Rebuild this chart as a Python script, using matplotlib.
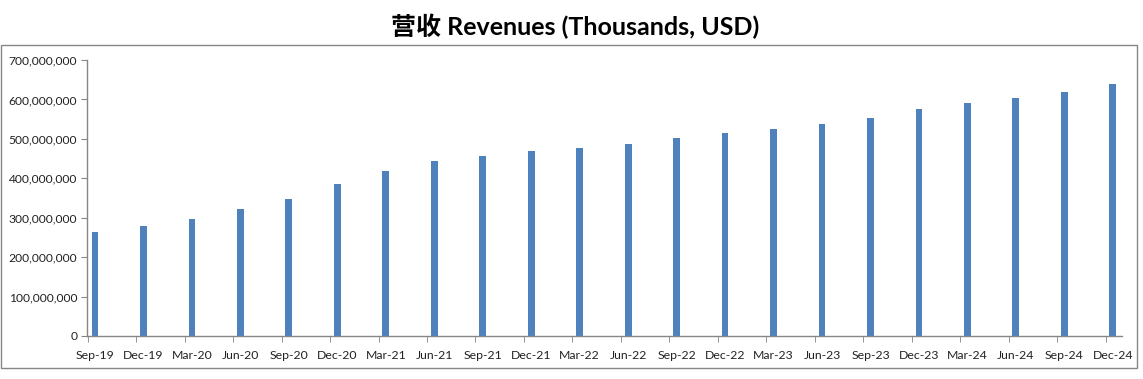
import numpy as np
import matplotlib.pyplot as plt
from matplotlib.patches import Rectangle
from matplotlib.ticker import FuncFormatter, FixedLocator

# Dati (migliaia di USD)
quarters = ['Sep-19', 'Dec-19', 'Mar-20', 'Jun-20', 'Sep-20', 'Dec-20', 'Mar-21', 'Jun-21',
            'Sep-21', 'Dec-21', 'Mar-22', 'Jun-22', 'Sep-22', 'Dec-22', 'Mar-23', 'Jun-23',
            'Sep-23', 'Dec-23', 'Mar-24', 'Jun-24', 'Sep-24', 'Dec-24']
revenues = [264e6, 279e6, 297e6, 322e6, 347e6, 385e6, 418e6, 443e6,
            456e6, 469e6, 476e6, 486e6, 502e6, 514e6, 524e6, 537e6,
            552e6, 575e6, 590e6, 603e6, 620e6, 638e6]
title = '营收 Revenues (Thousands, USD)'

plt.rcParams['font.family'] = ['Lato', 'Noto Sans CJK SC', 'DejaVu Sans']

fig = plt.figure(figsize=(11.43, 3.79), dpi=100)
W, H = 1143, 379
# assi in pixel: x 87..1122, y 60..336
ax = fig.add_axes([87/W, 1-336/H, (1122-87)/W, (336-60)/H])

x = np.arange(len(quarters))
ax.bar(x, revenues, width=0.14, color='#4f81bd')

ax.set_xlim(-0.165, len(quarters)-1+0.19)
ax.set_ylim(0, 700e6)
ax.set_yticks(np.arange(0, 700e6+1, 100e6))
ax.yaxis.set_major_formatter(FuncFormatter(lambda v, p: f'{int(v):,}'))

ax.set_xticks(x)
ax.set_xticklabels(quarters)
ax.xaxis.set_minor_locator(FixedLocator(x - 0.15))
ax.tick_params(axis='x', which='major', length=0, pad=10, labelsize=8.8, colors='#222222')
ax.tick_params(axis='x', which='minor', length=4, color='#868686', direction='out')
ax.tick_params(axis='y', length=4, color='#868686', labelsize=8.7, labelcolor='#222222', pad=3)

for s in ['top', 'right']:
    ax.spines[s].set_visible(False)
for s in ['left', 'bottom']:
    ax.spines[s].set_color('#868686')
    ax.spines[s].set_linewidth(1)

# cornice esterna
fig.patches.append(Rectangle((1/W, 1-368/H), 1136/W, (368-45)/H, transform=fig.transFigure,
                             fill=False, edgecolor='#868686', linewidth=1))

fig.text(575/W, 1-26/H, title, ha='center', va='center', fontsize=18, fontweight='bold')

fig.savefig('out.png', dpi=100)
